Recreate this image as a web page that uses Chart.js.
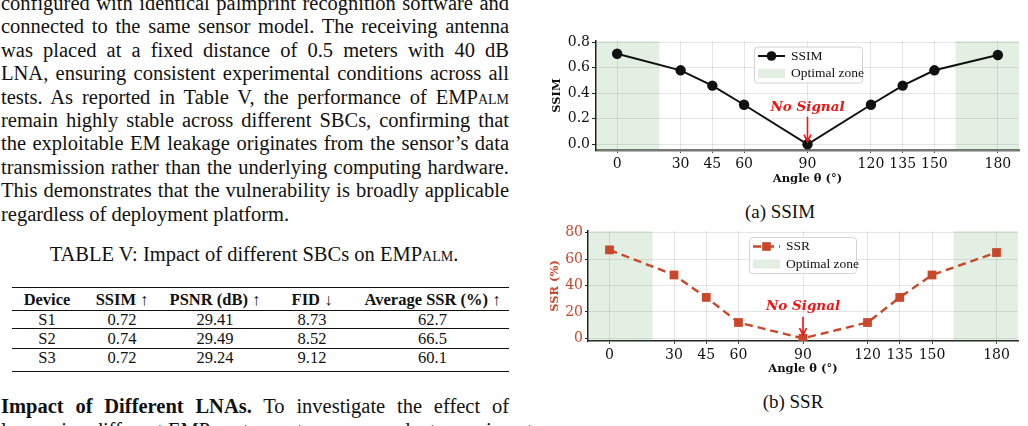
<!DOCTYPE html>
<html>
<head>
<meta charset="utf-8">
<script src="https://cdn.jsdelivr.net/npm/chart.js"></script>
<style>
body { margin:0; width:1028px; height:426px; overflow:hidden; background:#fff; position:relative; font-family:"Liberation Serif", serif; color:#111; }
.line { position:absolute; left:1px; width:508px; font-size:20.5px; line-height:23.4px; height:23.4px; white-space:nowrap; text-align:justify; text-align-last:justify; }
.line.last { text-align-last:left; }
.sc { font-variant:small-caps; }
.caption { position:absolute; font-size:20.5px; line-height:23.4px; white-space:nowrap; transform:translateX(-50%); }
table { position:absolute; left:12px; top:287px; width:497px; border-collapse:collapse; font-size:16.5px; table-layout:fixed; }
td, th { text-align:center; padding:0; line-height:17px; }
th { font-weight:bold; }
.figcap { position:absolute; font-size:19px; line-height:22px; white-space:nowrap; transform:translateX(-50%); }
canvas { position:absolute; }
</style>
</head>
<body>
<div id="text"></div>
<div class="caption" style="left:254px; top:243px;">TABLE V: Impact of different SBCs on EMP<span class="sc">alm</span>.</div>
<table id="tbl">
  <colgroup><col style="width:70px"><col style="width:80px"><col style="width:106px"><col style="width:88px"><col style="width:153px"></colgroup>
  <thead><tr id="head" style="height:23px; border-top:1.6px solid #111; border-bottom:1px solid #111;"></tr></thead>
  <tbody id="body"></tbody>
</table>
<div class="line" style="top:395.3px;"><b>Impact of Different LNAs.</b> To investigate the effect of</div>
<div class="line" style="top:418.7px;">leveraging different EMP capture setups, we conduct experiments</div>

<div style="position:absolute; left:540px; top:28px; width:488px; height:172px;"><canvas id="ssimChart" width="488" height="172"></canvas></div>
<div class="figcap" style="left:780px; top:200.5px;">(a) SSIM</div>
<div style="position:absolute; left:540px; top:218px; width:488px; height:172px;"><canvas id="ssrChart" width="488" height="172"></canvas></div>
<div class="figcap" style="left:793px; top:390.5px;">(b) SSR</div>

<script>
// body text, one entry per printed line
const paragraphLines = [
    'configured with identical palmprint recognition software and',
    'connected to the same sensor model. The receiving antenna',
    'was placed at a fixed distance of 0.5 meters with 40 dB',
    'LNA, ensuring consistent experimental conditions across all',
    'tests. As reported in Table V, the performance of EMP<span class="sc">alm</span>',
    'remain highly stable across different SBCs, confirming that',
    'the exploitable EM leakage originates from the sensor\u2019s data',
    'transmission rather than the underlying computing hardware.',
    'This demonstrates that the vulnerability is broadly applicable',
    'regardless of deployment platform.'
];

// table V
const tableHeader = ['Device', 'SSIM \u2191', 'PSNR (dB) \u2191', 'FID \u2193', 'Average SSR (%) \u2191'];
const devices = ['S1', 'S2', 'S3'];
const deviceSsim = ['0.72', '0.74', '0.72'];
const devicePsnr = ['29.41', '29.49', '29.24'];
const deviceFid = ['8.73', '8.52', '9.12'];
const deviceSsr = ['62.7', '66.5', '60.1'];

// chart data
const angles = [0, 30, 45, 60, 90, 120, 135, 150, 180];
const ssimValues = [0.71, 0.58, 0.46, 0.31, 0.0, 0.31, 0.46, 0.58, 0.70];
const ssrValues = [67, 48, 31, 12, 0, 12, 31, 48, 65];
const ssimTicks = [0, 0.2, 0.4, 0.6, 0.8];
const ssrTicks = [0, 20, 40, 60, 80];
const optimalZones = [[-10, 20], [160, 190]];
const zoneLabel = 'Optimal zone';
const noSignalAngle = 90;
const noSignalText = 'No Signal';

const SSR_COLOR = '#c9472b';
const ZONE_COLOR = 'rgba(60, 140, 50, 0.14)';
const GRID_COLOR = 'rgba(0, 0, 0, 0.1)';

// --- page text ---
const textDiv = document.getElementById('text');
paragraphLines.forEach((t, i) => {
    const d = document.createElement('div');
    d.className = 'line' + (i === paragraphLines.length - 1 ? ' last' : '');
    d.style.top = (-8.1 + i * 23.4) + 'px';
    d.innerHTML = t;
    textDiv.appendChild(d);
});

document.getElementById('head').innerHTML = tableHeader.map(h => '<th>' + h + '</th>').join('');
const rowHeights = [18, 20, 23];
document.getElementById('body').innerHTML = devices.map((d, i) => {
    const border = i === devices.length - 1 ? 'border-bottom:1.6px solid #111;' : 'border-bottom:1px solid #111;';
    const valign = i === devices.length - 1 ? 'vertical-align:top;padding-top:0px;' : '';
    return '<tr style="height:' + rowHeights[i] + 'px;' + border + '">' +
        [d, deviceSsim[i], devicePsnr[i], deviceFid[i], deviceSsr[i]]
            .map(v => '<td style="' + valign + '">' + v + '</td>').join('') + '</tr>';
}).join('');

// --- chart plugins ---
const zonePlugin = {
    id: 'zones',
    beforeDatasetsDraw(chart) {
        const { ctx, chartArea, scales: { x } } = chart;
        ctx.save();
        ctx.fillStyle = ZONE_COLOR;
        optimalZones.forEach(z => {
            const x0 = x.getPixelForValue(z[0]);
            const x1 = x.getPixelForValue(z[1]);
            ctx.fillRect(x0, chartArea.top, x1 - x0, chartArea.bottom - chartArea.top);
        });
        ctx.restore();
    }
};

const noSignalPlugin = {
    id: 'noSignal',
    afterDatasetsDraw(chart, args, opts) {
        const { ctx, scales: { x, y } } = chart;
        const px = x.getPixelForValue(noSignalAngle);
        const tailY = y.getPixelForValue(opts.tail);
        const headY = y.getPixelForValue(opts.head);
        ctx.save();
        ctx.strokeStyle = '#f01515';
        ctx.lineWidth = 1.6;
        ctx.beginPath();
        ctx.moveTo(px, tailY);
        ctx.lineTo(px, headY);
        ctx.moveTo(px - 3.5, headY - 7);
        ctx.lineTo(px, headY);
        ctx.lineTo(px + 3.5, headY - 7);
        ctx.stroke();
        ctx.fillStyle = '#f01515';
        ctx.font = 'italic bold 13.5px "DejaVu Serif"';
        ctx.textAlign = 'center';
        ctx.textBaseline = 'middle';
        ctx.fillText(noSignalText, px + (opts.dx || 0), y.getPixelForValue(opts.text));
        ctx.restore();
    }
};

const legendPlugin = {
    id: 'legendBox',
    afterDraw(chart, args, o) {
        const { ctx, chartArea } = chart;
        const ds = chart.data.datasets[0];
        const x0 = chartArea.left + o.left;
        const y0 = chartArea.top + o.top;
        ctx.save();
        ctx.beginPath();
        ctx.roundRect(x0 + 0.5, y0 + 0.5, o.width, o.height, 3);
        ctx.fillStyle = 'rgba(255,255,255,0.85)';
        ctx.fill();
        ctx.strokeStyle = '#d4d4d4';
        ctx.lineWidth = 1;
        ctx.stroke();
        // row 1: line + marker
        const r1 = y0 + 9.5;
        ctx.strokeStyle = ds.borderColor;
        ctx.lineWidth = ds.borderWidth;
        ctx.setLineDash(ds.borderDash || []);
        ctx.beginPath();
        ctx.moveTo(x0 + 4, r1);
        ctx.lineTo(x0 + 31, r1);
        ctx.stroke();
        ctx.setLineDash([]);
        ctx.fillStyle = ds.pointBackgroundColor;
        if (ds.pointStyle === 'rect') {
            ctx.fillRect(x0 + 17.5 - 4.3, r1 - 4.3, 8.6, 8.6);
        } else {
            ctx.beginPath();
            ctx.arc(x0 + 17.5, r1, 4.8, 0, Math.PI * 2);
            ctx.fill();
        }
        ctx.fillStyle = '#111';
        ctx.font = '13.5px "Liberation Serif"';
        ctx.textBaseline = 'middle';
        ctx.textAlign = 'left';
        ctx.fillText(ds.label, x0 + 37, r1);
        // row 2: zone patch
        const r2 = y0 + 27;
        ctx.fillStyle = ZONE_COLOR;
        ctx.fillRect(x0 + 4, r2 - 4.5, 27, 9);
        ctx.fillStyle = '#111';
        ctx.fillText(zoneLabel, x0 + 37, r2);
        ctx.restore();
    }
};

function makeChart(canvasId, cfg) {
    const ctx = document.getElementById(canvasId).getContext('2d');
    return new Chart(ctx, {
        type: 'scatter',
        data: {
            datasets: [{
                label: cfg.label,
                data: angles.map((a, i) => ({ x: a, y: cfg.values[i] })),
                showLine: true,
                borderColor: cfg.color,
                borderWidth: cfg.lineWidth,
                borderDash: cfg.dash,
                pointStyle: cfg.pointStyle,
                pointRadius: cfg.pointRadius,
                pointBackgroundColor: cfg.color,
                pointBorderWidth: 0,
                tension: 0
            }]
        },
        options: {
            responsive: false,
            animation: false,
            layout: { padding: { top: 13, right: cfg.rightPad, left: 0, bottom: 0 } },
            scales: {
                x: {
                    type: 'linear',
                    min: -10,
                    max: 190,
                    afterBuildTicks: axis => { axis.ticks = angles.map(v => ({ value: v })); },
                    afterFit: s => { s.height = cfg.xHeight; },
                    grid: { color: GRID_COLOR, tickLength: 3, tickColor: '#444' },
                    border: { color: cfg.xBorderColor, width: cfg.xBorderWidth },
                    ticks: {
                        autoSkip: false,
                        maxRotation: 0,
                        padding: 3,
                        color: '#111',
                        font: { family: 'DejaVu Serif', size: 14 }
                    },
                    title: {
                        display: true,
                        text: 'Angle \u03b8 (\u00b0)',
                        color: '#111',
                        font: { family: 'DejaVu Serif', size: 11.5, weight: 'bold' },
                        padding: { top: 0, bottom: 14 }
                    }
                },
                y: {
                    min: cfg.yMin,
                    max: cfg.yMax,
                    afterBuildTicks: axis => { axis.ticks = cfg.ticks.map(v => ({ value: v })); },
                    afterFit: s => { s.width = cfg.yWidth; },
                    grid: { color: GRID_COLOR, tickLength: cfg.yTickLen, tickColor: '#222' },
                    border: { color: '#222', width: 1.5 },
                    ticks: {
                        padding: cfg.yPad,
                        color: cfg.tickColor,
                        font: { family: 'DejaVu Serif', size: 14 },
                        callback: cfg.format
                    },
                    title: {
                        display: true,
                        text: cfg.yTitle,
                        color: cfg.tickColor,
                        font: { family: 'DejaVu Serif', size: 11.5, weight: 'bold' },
                        padding: { top: cfg.yTitlePad, bottom: 0 }
                    }
                }
            },
            plugins: {
                legend: { display: false },
                tooltip: { enabled: false },
                noSignal: cfg.noSignal,
                legendBox: cfg.legendBox
            }
        },
        plugins: [zonePlugin, noSignalPlugin, legendPlugin]
    });
}

makeChart('ssimChart', {
    label: 'SSIM',
    values: ssimValues,
    color: '#111',
    lineWidth: 2,
    dash: [],
    pointStyle: 'circle',
    pointRadius: 5.2,
    rightPad: 9,
    xHeight: 50,
    yWidth: 56,
    yMin: -0.045,
    yMax: 0.81,
    ticks: ssimTicks,
    format: v => v.toFixed(1),
    tickColor: '#111',
    yTitle: 'SSIM',
    yTitlePad: 10,
    yTickLen: 4,
    yPad: 2,
    xBorderColor: '#777',
    xBorderWidth: 2.5,
    noSignal: { text: 0.29, tail: 0.215, head: 0.02 },
    legendBox: { left: 158, top: 5.5, width: 108, height: 36 }
});

makeChart('ssrChart', {
    label: 'SSR',
    values: ssrValues,
    color: SSR_COLOR,
    lineWidth: 2.4,
    dash: [8, 5],
    pointStyle: 'rect',
    pointRadius: 6.2,
    rightPad: 10,
    xHeight: 49,
    yWidth: 48,
    yMin: -2,
    yMax: 81.3,
    ticks: ssrTicks,
    format: v => String(v),
    tickColor: SSR_COLOR,
    yTitle: 'SSR (%)',
    yTitlePad: 8,
    yTickLen: 3,
    yPad: 2,
    xBorderColor: '#222',
    xBorderWidth: 1.6,
    noSignal: { text: 24, tail: 16.4, head: 2.5, dx: 0 },
    legendBox: { left: 161, top: 6, width: 107, height: 36 }
});
</script>
</body>
</html>
